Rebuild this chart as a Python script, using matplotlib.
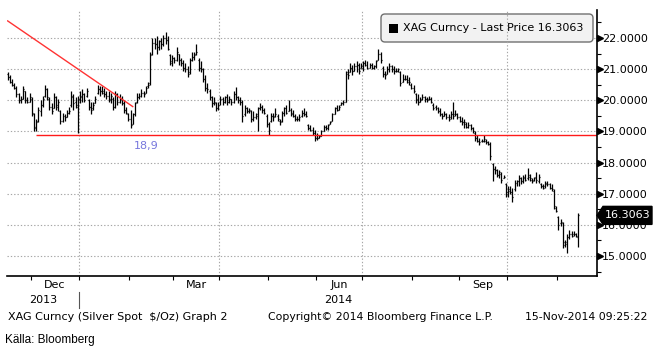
import numpy as np
import pandas as pd
import matplotlib
matplotlib.use("Agg")
import matplotlib.pyplot as plt
from matplotlib.collections import LineCollection
from matplotlib.patches import FancyBboxPatch, Polygon, Rectangle
from matplotlib.transforms import IdentityTransform

# ---- XAG spot, daily bars (business days) ----
dates = pd.bdate_range("2013-11-15", "2014-11-14")

price_open = [
    20.85, 20.75, 20.6, 20.5, 20.4, 20.2, 20.0, 20.05, 20.3, 20.0,
    19.95, 20.05, 19.55, 19.1, 19.35, 19.65, 19.85, 20.15, 20.35, 20.05,
    19.8, 19.75, 20.1, 19.8, 19.65, 19.35, 19.5, 19.45, 19.6, 19.85,
    20.15, 19.95, 19.8, 20.0, 20.1, 20.2, 20.15, 20.0, 19.8, 19.75,
    19.9, 20.25, 20.35, 20.3, 20.3, 20.2, 20.15, 20.0, 20.05, 19.8,
    20.2, 19.95, 20.05, 19.9, 19.7, 19.55, 19.4, 19.25, 19.55, 19.95,
    20.1, 20.15, 20.25, 20.25, 20.45, 20.55, 21.5, 21.85, 21.8, 21.7,
    21.9, 21.8, 22.0, 21.95, 21.45, 21.2, 21.35, 21.3, 21.5, 21.3,
    21.2, 21.05, 21.0, 20.9, 21.3, 21.4, 21.5, 21.3, 21.05, 21.0,
    20.7, 20.4, 20.3, 20.1, 19.9, 19.9, 19.75, 19.9, 20.05, 19.95,
    20.1, 19.95, 20.05, 19.95, 20.2, 20.1, 20.0, 19.95, 19.55, 19.75,
    19.65, 19.65, 19.4, 19.45, 19.5, 19.75, 19.8, 19.7, 19.5, 19.25,
    19.35, 19.5, 19.5, 19.5, 19.35, 19.35, 19.6, 19.75, 19.65, 19.7,
    19.6, 19.5, 19.4, 19.4, 19.5, 19.6, 19.55, 19.2, 19.1, 19.05,
    18.95, 18.8, 18.8, 18.85, 19.0, 19.15, 19.1, 19.25, 19.35, 19.55,
    19.75, 19.7, 19.85, 19.9, 19.95, 20.9, 20.9, 21.05, 20.95, 21.1,
    21.15, 21.05, 21.05, 21.2, 21.15, 21.05, 21.15, 21.05, 21.1, 21.3,
    21.5, 21.05, 20.85, 20.85, 21.0, 21.1, 21.0, 20.95, 20.95, 20.9,
    20.6, 20.7, 20.7, 20.65, 20.5, 20.4, 20.2, 20.05, 19.95, 20.05,
    20.1, 20.05, 20.05, 20.05, 19.85, 19.8, 19.75, 19.65, 19.55, 19.5,
    19.55, 19.45, 19.45, 19.55, 19.55, 19.55, 19.45, 19.35, 19.3, 19.25,
    19.15, 19.2, 19.1, 18.95, 18.8, 18.7, 18.7, 18.7, 18.7, 18.65,
    18.6, 17.95, 17.8, 17.75, 17.6, 17.65, 17.5, 17.3, 17.05, 17.15,
    17.05, 17.15, 17.35, 17.4, 17.5, 17.4, 17.55, 17.5, 17.6, 17.45,
    17.45, 17.55, 17.4, 17.3, 17.25, 17.25, 17.35, 17.3, 17.2, 17.1,
    16.55, 16.25, 16.05, 16.05, 15.45, 15.45, 15.6, 15.7, 15.7, 15.7, 15.6,
]

price_high = [
    20.9, 20.8, 20.7, 20.55, 20.45, 20.25, 20.15, 20.45, 20.3, 20.1,
    20.25, 20.1, 19.6, 19.4, 19.8, 20.0, 20.15, 20.5, 20.4, 20.1,
    19.9, 20.25, 20.15, 20.05, 19.7, 19.6, 19.55, 19.7, 19.8, 20.3,
    20.2, 20.1, 20.15, 20.3, 20.35, 20.25, 20.4, 20.05, 19.95, 19.95,
    20.15, 20.5, 20.45, 20.45, 20.4, 20.3, 20.3, 20.25, 20.1, 20.3,
    20.25, 20.2, 20.15, 20.0, 19.8, 19.6, 19.7, 19.6, 19.95, 20.25,
    20.25, 20.35, 20.3, 20.45, 20.6, 21.55, 22.0, 22.0, 22.05, 21.95,
    22.0, 22.1, 22.2, 22.05, 21.5, 21.45, 21.4, 21.7, 21.5, 21.35,
    21.3, 21.2, 21.1, 21.35, 21.55, 21.55, 21.8, 21.35, 21.25, 21.05,
    20.8, 20.55, 20.35, 20.15, 20.1, 19.95, 19.95, 20.15, 20.1, 20.15,
    20.2, 20.15, 20.05, 20.3, 20.43, 20.15, 20.1, 20.0, 19.85, 19.8,
    19.75, 19.7, 19.65, 19.6, 19.8, 19.9, 19.85, 19.75, 19.55, 19.3,
    19.6, 19.6, 19.75, 19.55, 19.4, 19.65, 19.8, 19.85, 20.0, 19.75,
    19.7, 19.55, 19.5, 19.55, 19.7, 19.75, 19.65, 19.25, 19.2, 19.15,
    19.05, 18.95, 18.9, 19.05, 19.2, 19.2, 19.25, 19.35, 19.6, 19.8,
    19.85, 19.85, 19.95, 20.0, 20.95, 21.0, 21.2, 21.15, 21.2, 21.25,
    21.2, 21.2, 21.25, 21.3, 21.25, 21.2, 21.2, 21.15, 21.3, 21.65,
    21.55, 21.1, 20.95, 21.1, 21.2, 21.15, 21.1, 21.05, 21.05, 20.95,
    20.85, 20.8, 20.8, 20.75, 20.55, 20.5, 20.25, 20.2, 20.1, 20.2,
    20.15, 20.1, 20.15, 20.1, 19.9, 19.85, 19.8, 19.75, 19.6, 19.65,
    19.6, 19.55, 19.65, 19.95, 19.7, 19.6, 19.5, 19.45, 19.4, 19.3,
    19.3, 19.25, 19.15, 19.0, 18.9, 18.8, 18.75, 18.9, 18.75, 18.7,
    18.65, 18.0, 17.9, 17.8, 17.77, 17.7, 17.6, 17.35, 17.25, 17.25,
    17.2, 17.45, 17.45, 17.6, 17.55, 17.6, 17.65, 17.82, 17.65, 17.5,
    17.55, 17.7, 17.65, 17.35, 17.3, 17.4, 17.4, 17.35, 17.3, 17.15,
    16.6, 16.3, 16.2, 16.1, 15.5, 15.7, 15.85, 15.8, 15.8, 15.75, 16.38,
]

price_low = [
    20.65, 20.55, 20.45, 20.35, 20.1, 19.9, 19.9, 20.05, 19.9, 19.9,
    19.95, 19.5, 19.0, 19.0, 19.3, 19.5, 19.8, 20.1, 20.0, 19.7,
    19.55, 19.75, 19.7, 19.65, 19.25, 19.3, 19.35, 19.45, 19.55, 19.8,
    19.7, 19.75, 18.95, 19.9, 19.95, 19.95, 20.1, 19.7, 19.55, 19.7,
    19.9, 20.2, 20.15, 20.2, 20.1, 20.05, 19.95, 19.9, 19.7, 19.75,
    19.85, 19.9, 19.85, 19.6, 19.55, 19.35, 19.1, 19.25, 19.5, 19.9,
    20.05, 20.1, 20.1, 20.25, 20.4, 20.5, 21.45, 21.65, 21.5, 21.6,
    21.65, 21.75, 21.8, 21.6, 21.15, 21.1, 21.2, 21.25, 21.15, 21.1,
    20.95, 20.9, 20.75, 20.85, 21.25, 21.3, 21.45, 20.95, 20.9, 20.6,
    20.3, 20.25, 20.0, 19.8, 19.85, 19.65, 19.7, 19.85, 19.85, 19.9,
    19.85, 19.9, 19.85, 19.9, 20.0, 19.9, 19.85, 19.3, 19.5, 19.6,
    19.6, 19.3, 19.35, 19.4, 19.0, 19.7, 19.6, 19.55, 19.15, 18.9,
    19.3, 19.35, 19.45, 19.35, 19.2, 19.3, 19.5, 19.55, 19.65, 19.5,
    19.45, 19.35, 19.35, 19.35, 19.45, 19.5, 19.45, 19.05, 19.0, 18.9,
    18.7, 18.72, 18.8, 18.85, 19.0, 19.05, 19.05, 19.25, 19.35, 19.55,
    19.65, 19.7, 19.85, 19.85, 19.95, 20.68, 20.9, 20.8, 20.95, 20.9,
    20.85, 21.05, 20.95, 21.1, 21.0, 21.05, 21.0, 21.0, 21.05, 21.3,
    21.2, 20.75, 20.7, 20.85, 20.9, 20.9, 20.85, 20.9, 20.9, 20.45,
    20.6, 20.65, 20.55, 20.5, 20.35, 20.25, 19.9, 19.85, 19.95, 20.0,
    19.95, 19.95, 20.0, 19.9, 19.7, 19.7, 19.6, 19.5, 19.4, 19.5,
    19.4, 19.35, 19.4, 19.4, 19.5, 19.4, 19.3, 19.2, 19.1, 19.1,
    19.1, 19.05, 18.95, 18.7, 18.65, 18.55, 18.65, 18.65, 18.6, 18.55,
    18.1, 17.4, 17.65, 17.55, 17.5, 17.35, 17.5, 16.9, 16.9, 17.0,
    16.75, 17.1, 17.25, 17.25, 17.3, 17.35, 17.4, 17.45, 17.4, 17.35,
    17.4, 17.35, 17.35, 17.2, 17.15, 17.2, 17.25, 17.15, 17.1, 16.5,
    16.4, 15.85, 15.95, 15.25, 15.3, 15.09, 15.55, 15.6, 15.65, 15.6, 15.3,
]

price_close = [
    20.75, 20.6, 20.5, 20.4, 20.2, 20.0, 20.05, 20.35, 20.0, 19.95,
    20.1, 19.6, 19.15, 19.3, 19.7, 19.85, 20.05, 20.35, 20.1, 19.8,
    19.65, 20.1, 19.85, 19.95, 19.35, 19.45, 19.45, 19.6, 19.65, 20.1,
    19.9, 19.85, 20.05, 20.15, 20.2, 20.0, 20.3, 19.8, 19.7, 19.85,
    20.05, 20.35, 20.3, 20.25, 20.2, 20.15, 20.05, 20.15, 19.8, 20.2,
    19.95, 20.05, 19.9, 19.7, 19.6, 19.4, 19.2, 19.55, 19.9, 20.1,
    20.15, 20.25, 20.2, 20.4, 20.5, 21.45, 21.85, 21.8, 21.7, 21.9,
    21.8, 22.0, 21.95, 21.65, 21.25, 21.35, 21.3, 21.55, 21.3, 21.2,
    21.05, 21.0, 20.85, 21.3, 21.4, 21.45, 21.55, 21.05, 21.0, 20.7,
    20.4, 20.35, 20.1, 19.9, 19.95, 19.75, 19.85, 20.05, 19.95, 20.1,
    19.95, 20.05, 19.95, 20.2, 20.1, 20.0, 19.95, 19.5, 19.75, 19.65,
    19.7, 19.4, 19.45, 19.55, 19.75, 19.8, 19.7, 19.6, 19.25, 19.05,
    19.5, 19.45, 19.55, 19.4, 19.3, 19.6, 19.75, 19.6, 19.7, 19.55,
    19.5, 19.4, 19.4, 19.45, 19.6, 19.55, 19.5, 19.1, 19.05, 18.95,
    18.8, 18.8, 18.85, 19.0, 19.15, 19.1, 19.2, 19.3, 19.55, 19.75,
    19.7, 19.8, 19.9, 19.95, 20.85, 20.8, 21.05, 20.95, 21.1, 21.15,
    20.95, 21.1, 21.2, 21.15, 21.05, 21.15, 21.05, 21.1, 21.25, 21.5,
    21.3, 20.85, 20.8, 21.0, 21.1, 21.0, 20.95, 20.95, 21.0, 20.55,
    20.7, 20.7, 20.6, 20.6, 20.4, 20.3, 20.0, 19.95, 20.0, 20.1,
    20.05, 20.0, 20.05, 19.95, 19.75, 19.75, 19.65, 19.55, 19.5, 19.55,
    19.45, 19.4, 19.55, 19.5, 19.55, 19.45, 19.35, 19.3, 19.3, 19.15,
    19.2, 19.1, 19.0, 18.8, 18.7, 18.65, 18.7, 18.75, 18.65, 18.6,
    18.2, 17.8, 17.75, 17.6, 17.7, 17.45, 17.55, 17.0, 17.1, 17.05,
    16.9, 17.35, 17.4, 17.5, 17.4, 17.5, 17.45, 17.55, 17.5, 17.4,
    17.5, 17.45, 17.55, 17.25, 17.2, 17.3, 17.3, 17.2, 17.15, 16.6,
    16.45, 16.0, 16.1, 15.35, 15.4, 15.6, 15.7, 15.65, 15.7, 15.65, 16.3063,
]

last_price = 16.3063
support_level = 18.9
support_label = "18,9"
support_start = "2013-12-04"
support_label_date = "2014-02-12"
trend_dates = ["2013-11-15", "2014-02-04"]
trend_values = [22.55, 19.8]

y_major = [15, 16, 17, 18, 19, 20, 21, 22]
y_minor = [14.5, 15.5, 16.5, 17.5, 18.5, 19.5, 20.5, 21.5, 22.5]
month_labels = {"2013-12": "Dec", "2014-03": "Mar", "2014-06": "Jun", "2014-09": "Sep"}
year_labels = ["2013", "2014"]
legend_text = "XAG Curncy - Last Price 16.3063"
footer_left = "XAG Curncy (Silver Spot  $/Oz) Graph 2"
footer_mid = "Copyright\u00a9 2014 Bloomberg Finance L.P."
footer_right = "15-Nov-2014 09:25:22"
source_text = "K\u00e4lla: Bloomberg"

# ---- figure ----
W, H = 654, 350
plt.rcParams["font.family"] = ["DejaVu Sans"]
fig = plt.figure(figsize=(W / 100, H / 100), dpi=100)
fig.patch.set_facecolor("white")

ax_left, ax_right, ax_top, ax_bottom = 7, 597, 10, 276
ax = fig.add_axes([ax_left / W, 1 - ax_bottom / H,
                   (ax_right - ax_left) / W, (ax_bottom - ax_top) / H])
ax.set_facecolor("none")

n = len(dates)
pos = np.arange(n)
XMIN, XMAX = -0.3, 268.6
ax.set_xlim(XMIN, XMAX)
ax.set_ylim(14.36, 22.9)


def idx(d):
    return dates.get_indexer([pd.Timestamp(d)], method="bfill")[0]


# month boundaries (half a bar before the first trading day of each month)
s = pd.Series(pos, index=dates)
first_of_month = s.groupby(dates.to_period("M")).first()
month_edges = {str(p): v - 0.5 for p, v in first_of_month.items()}
tick_positions = [v for v in month_edges.values() if XMIN < v < XMAX]
quarter_lines = [month_edges[k] for k in ("2014-01", "2014-04", "2014-07", "2014-10")]

grid_kw = dict(color="#a6a6a6", lw=0.8, linestyle=(0, (1.2, 1.8)))
for y in y_major:
    ax.axhline(y, zorder=1, **grid_kw)
for x in quarter_lines:
    ax.axvline(x, zorder=2.5, **grid_kw)

# OHLC bars
o = np.asarray(price_open)
h = np.asarray(price_high)
l = np.asarray(price_low)
c = np.asarray(price_close)
tick = 0.45
segs = []
for i in range(n):
    segs.append([(pos[i], l[i]), (pos[i], h[i])])
    segs.append([(pos[i] - tick, o[i]), (pos[i], o[i])])
    segs.append([(pos[i], c[i]), (pos[i] + tick, c[i])])
ax.add_collection(LineCollection(segs, colors="black", linewidths=0.9,
                                 capstyle="butt", zorder=3))

# support and trend lines
ax.hlines(support_level, idx(support_start), XMAX, colors="#ff1a1a", lw=1.0, zorder=4)
ax.plot([idx(d) for d in trend_dates], trend_values, color="#ff3333", lw=1.0, zorder=4)
ax.annotate(support_label, (idx(support_label_date), support_level),
            xytext=(0, -8), textcoords="offset points", ha="center", va="center",
            color="#7777dd", fontsize=8)

# axes frame
for side in ("top", "left"):
    ax.spines[side].set_visible(False)
ax.spines["bottom"].set_linewidth(1.2)
ax.spines["right"].set_linewidth(1.2)
ax.spines["bottom"].set_zorder(5)
ax.spines["right"].set_zorder(5)

ax.set_xticks(tick_positions)
ax.set_xticklabels([])
ax.tick_params(axis="x", direction="out", length=3, width=0.8, color="black")

ax.yaxis.tick_right()
ax.set_yticks(y_major)
ax.set_yticklabels([f"{v:.4f}" for v in y_major], fontsize=8)
ax.set_yticks(y_minor, minor=True)
ax.tick_params(axis="y", which="major", length=0, pad=3.5)
ax.tick_params(axis="y", which="minor", right=True, left=False,
               direction="out", length=3, width=0.8)
ax.plot([1.0 + 3 / (ax_right - ax_left)] * len(y_major), y_major, ">",
        color="black", markersize=4, transform=ax.get_yaxis_transform(),
        clip_on=False, zorder=6)

# month / year labels under the axis
xax = ax.get_xaxis_transform()
ah = ax_bottom - ax_top
month_keys = list(month_edges.keys())
for key, lab in month_labels.items():
    k = month_keys.index(key)
    cx = (month_edges[key] + month_edges[month_keys[k + 1]]) / 2
    ax.text(cx, -9 / ah, lab, transform=xax, ha="center", va="center",
            fontsize=8, clip_on=False)
year_break = month_edges["2014-01"]
ax.text((XMIN + year_break) / 2, -24 / ah, year_labels[0], transform=xax,
        ha="center", va="center", fontsize=8, clip_on=False)
ax.text((year_break + XMAX) / 2, -24 / ah, year_labels[1], transform=xax,
        ha="center", va="center", fontsize=8, clip_on=False)
ax.plot([year_break, year_break], [-16 / ah, -32 / ah], color="#555555",
        lw=0.8, transform=xax, clip_on=False)

# legend box
ident = IdentityTransform()
fig.canvas.draw()
leg = FancyBboxPatch((381, H - 42), 212, 28, boxstyle="round,pad=0,rounding_size=4",
                     fc="#f2f2f2", ec="#707070", lw=1.0, transform=ident, zorder=2)
ax.add_artist(leg)
ax.add_artist(Rectangle((389, H - 33), 9, 9, fc="black", ec="none",
                        transform=ident, zorder=2.2))
ax.text(403, H - 28, legend_text, transform=ident, ha="left", va="center",
        fontsize=8, zorder=2.2)

# last price tag on the right axis
yp = ax.transData.transform((0, last_price))[1]
tag = Polygon([(ax_right, yp), (ax_right + 6, yp + 9), (652, yp + 9),
               (652, yp - 9), (ax_right + 6, yp - 9)], closed=True,
              fc="black", ec="black", transform=ident)
fig.add_artist(tag)
fig.text(605, yp, f"{last_price:.4f}", transform=ident, color="white",
         ha="left", va="center", fontsize=8)

# footer
fig.text(8 / W, 1 - 317 / H, footer_left, ha="left", va="center", fontsize=8)
fig.text(268 / W, 1 - 317 / H, footer_mid, ha="left", va="center", fontsize=7.8)
fig.text(647 / W, 1 - 317 / H, footer_right, ha="right", va="center", fontsize=7.8)
fig.text(5 / W, 1 - 340 / H, source_text, ha="left", va="center", fontsize=8.5,
         family=["Liberation Sans Narrow", "Liberation Sans"])

fig.savefig("out.png", dpi=100)
